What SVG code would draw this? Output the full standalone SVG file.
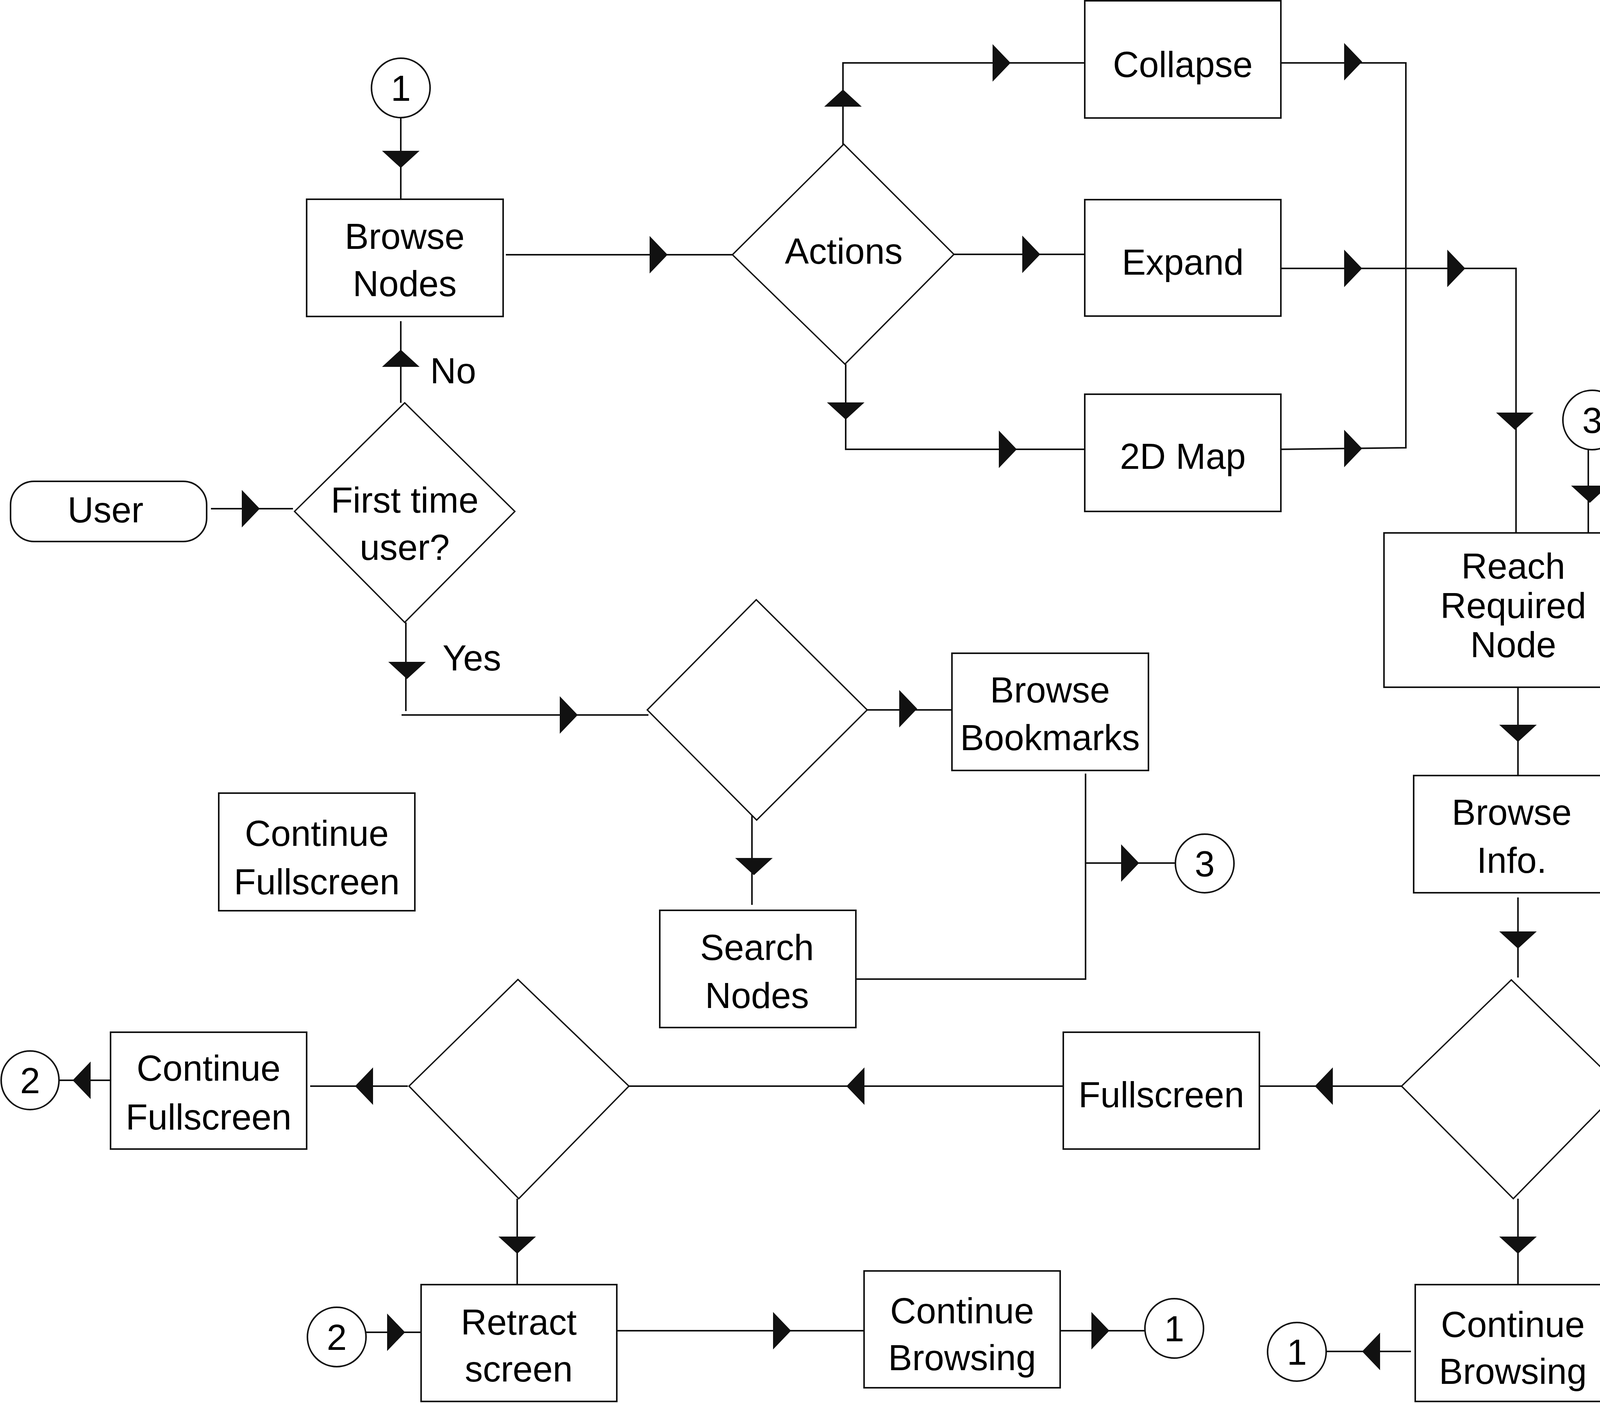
<svg xmlns="http://www.w3.org/2000/svg" xmlns:xlink="http://www.w3.org/1999/xlink" width="4208" height="3591" viewBox="0 0 4208 3591">
<style>
.b{fill:#fff;stroke:#111;stroke-width:4}
.d{fill:#fff;stroke:#111;stroke-width:3.5}
.c{fill:none;stroke:#111;stroke-width:4}
.t{font-family:"Liberation Sans",Arial,sans-serif;font-size:92px;fill:#000;text-anchor:middle}
.a{fill:#111}
</style>
<defs>
<path id="aR" class="a" d="M0,-48 L46,0 L0,48 Z"/>
<path id="aL" class="a" d="M0,-48 L-46,0 L0,48 Z"/>
<path id="aD" class="a" d="M-48,0 L0,44 L48,0 Z"/>
<path id="aU" class="a" d="M-48,0 L0,-44 L48,0 Z"/>
</defs>
<rect width="4208" height="3591" fill="#fff"/>
<g id="connectors">
<path class="c" d="M1026,301 V519"/>
<path class="c" d="M1295,652 H1875"/>
<path class="c" d="M1026,822 V1031"/>
<path class="c" d="M540,1302 H750"/>
<path class="c" d="M1039,1593 V1820 M1028,1830 H1660"/>
<path class="c" d="M2220,1817 H2437"/>
<path class="c" d="M1925,2080 V2316"/>
<path class="c" d="M2779,1980 V2506 H2191 M2779,2209 H3009"/>
<path class="c" d="M2158,371 V161 H2777"/>
<path class="c" d="M2442,651 H2777"/>
<path class="c" d="M2165,932 V1150 H2777"/>
<path class="c" d="M3279,161 H3599 V1146 L3279,1150"/>
<path class="c" d="M3279,687 H3881 V1372"/>
<path class="c" d="M4066,1150 V1374"/>
<path class="c" d="M3886,1759 V1985"/>
<path class="c" d="M3886,2297 V2502"/>
<path class="c" d="M3588,2780 H3210"/>
<path class="c" d="M2722,2780 H1610"/>
<path class="c" d="M1044,2780 H794"/>
<path class="c" d="M295,2765 H151"/>
<path class="c" d="M1324,3068 V3298"/>
<path class="c" d="M937,3410 H1081"/>
<path class="c" d="M1579,3406 H2212"/>
<path class="c" d="M2699,3406 H2931"/>
<path class="c" d="M3886,3068 V3298"/>
<path class="c" d="M3612,3459 H3396"/>
<use href="#aD" x="1026" y="386"/>
<use href="#aU" x="1026" y="939"/>
<use href="#aR" x="1663" y="652"/>
<use href="#aR" x="619" y="1302"/>
<use href="#aD" x="1042" y="1694"/>
<use href="#aR" x="1433" y="1830"/>
<use href="#aR" x="2302" y="1814"/>
<use href="#aD" x="1930" y="2196"/>
<use href="#aR" x="2870" y="2209"/>
<use href="#aU" x="2158" y="273"/>
<use href="#aR" x="2541" y="161"/>
<use href="#aR" x="2617" y="651"/>
<use href="#aD" x="2165" y="1030"/>
<use href="#aR" x="2557" y="1150"/>
<use href="#aR" x="3441" y="158"/>
<use href="#aR" x="3441" y="687"/>
<use href="#aR" x="3705" y="687"/>
<use href="#aR" x="3441" y="1148"/>
<use href="#aD" x="3878" y="1056"/>
<use href="#aD" x="4070" y="1243"/>
<use href="#aD" x="3886" y="1855"/>
<use href="#aD" x="3886" y="2384"/>
<use href="#aD" x="3886" y="3165"/>
<use href="#aL" x="3412" y="2780"/>
<use href="#aL" x="2213" y="2780"/>
<use href="#aL" x="955" y="2780"/>
<use href="#aL" x="232" y="2765"/>
<use href="#aD" x="1324" y="3165"/>
<use href="#aR" x="991" y="3410"/>
<use href="#aR" x="1979" y="3406"/>
<use href="#aR" x="2794" y="3406"/>
<use href="#aL" x="3533" y="3459"/>
</g>
<g id="c1top"><ellipse class="b" cx="1026" cy="225" rx="75" ry="76"/><text class="t" x="1026" y="258">1</text></g>
<g id="browseNodes"><rect class="b" x="785" y="510" width="503" height="300"/><text class="t" x="1036" y="637">Browse</text><text class="t" x="1036" y="758">Nodes</text></g>
<g id="noLabel"><text class="t" x="1160" y="981">No</text></g>
<g id="firstTime"><path class="d" d="M1036,1031 L1318,1309 L1036,1593 L754,1309 Z"/><text class="t" x="1036" y="1312">First time</text><text class="t" x="1036" y="1433">user?</text></g>
<g id="user"><rect class="b" x="27" y="1232" width="502" height="154" rx="60" ry="60"/><text class="t" x="270" y="1337">User</text></g>
<g id="yesLabel"><text class="t" x="1208" y="1716">Yes</text></g>
<g id="actions"><path class="d" d="M2160,369 L2442,651 L2163,932 L1875,652 Z"/><text class="t" x="2160" y="675">Actions</text></g>
<g id="collapse"><rect class="b" x="2777" y="2" width="502" height="300"/><text class="t" x="3028" y="197">Collapse</text></g>
<g id="expand"><rect class="b" x="2777" y="511" width="502" height="298"/><text class="t" x="3028" y="703">Expand</text></g>
<g id="map2d"><rect class="b" x="2777" y="1009" width="502" height="300"/><text class="t" x="3028" y="1200">2D Map</text></g>
<g id="c3top"><ellipse class="b" cx="4076" cy="1075" rx="75" ry="76"/><text class="t" x="4076" y="1108">3</text></g>
<g id="reach"><rect class="b" x="3543" y="1364" width="662" height="395"/><text class="t" x="3874" y="1481">Reach</text><text class="t" x="3874" y="1582">Required</text><text class="t" x="3874" y="1682">Node</text></g>
<g id="decision2"><path class="d" d="M1936,1535 L2220,1817 L1937,2099 L1657,1817 Z"/></g>
<g id="bookmarks"><rect class="b" x="2437" y="1672" width="503" height="300"/><text class="t" x="2688" y="1798">Browse</text><text class="t" x="2688" y="1920">Bookmarks</text></g>
<g id="c3mid"><ellipse class="b" cx="3084" cy="2210" rx="75" ry="75"/><text class="t" x="3084" y="2243">3</text></g>
<g id="searchNodes"><rect class="b" x="1689" y="2330" width="502" height="300"/><text class="t" x="1938" y="2457">Search</text><text class="t" x="1938" y="2580">Nodes</text></g>
<g id="contFull1"><rect class="b" x="560" y="2030" width="502" height="301"/><text class="t" x="811" y="2165">Continue</text><text class="t" x="811" y="2289">Fullscreen</text></g>
<g id="browseInfo"><rect class="b" x="3619" y="1985" width="503" height="300"/><text class="t" x="3870" y="2111">Browse</text><text class="t" x="3870" y="2234">Info.</text></g>
<g id="decision4"><path class="d" d="M3869,2508 L4152,2784 L3874,3068 L3588,2780 Z"/></g>
<g id="fullscreen"><rect class="b" x="2722" y="2642" width="502" height="299"/><text class="t" x="2973" y="2834">Fullscreen</text></g>
<g id="decision3"><path class="d" d="M1326,2507 L1610,2780 L1328,3068 L1047,2780 Z"/></g>
<g id="contFull2"><rect class="b" x="283" y="2642" width="502" height="299"/><text class="t" x="534" y="2766">Continue</text><text class="t" x="534" y="2891">Fullscreen</text></g>
<g id="c2left"><ellipse class="b" cx="77" cy="2765" rx="74" ry="75"/><text class="t" x="77" y="2798">2</text></g>
<g id="retract"><rect class="b" x="1078" y="3288" width="501" height="299"/><text class="t" x="1328" y="3416">Retract</text><text class="t" x="1328" y="3536">screen</text></g>
<g id="c2low"><ellipse class="b" cx="862" cy="3422" rx="75" ry="76"/><text class="t" x="862" y="3455">2</text></g>
<g id="contBrowse1"><rect class="b" x="2212" y="3253" width="502" height="299"/><text class="t" x="2463" y="3387">Continue</text><text class="t" x="2463" y="3507">Browsing</text></g>
<g id="c1mid"><ellipse class="b" cx="3006" cy="3400" rx="75" ry="76"/><text class="t" x="3006" y="3433">1</text></g>
<g id="contBrowse2"><rect class="b" x="3623" y="3288" width="501" height="299"/><text class="t" x="3873" y="3422">Continue</text><text class="t" x="3873" y="3542">Browsing</text></g>
<g id="c1right"><ellipse class="b" cx="3320" cy="3460" rx="75" ry="75"/><text class="t" x="3320" y="3493">1</text></g>
</svg>
